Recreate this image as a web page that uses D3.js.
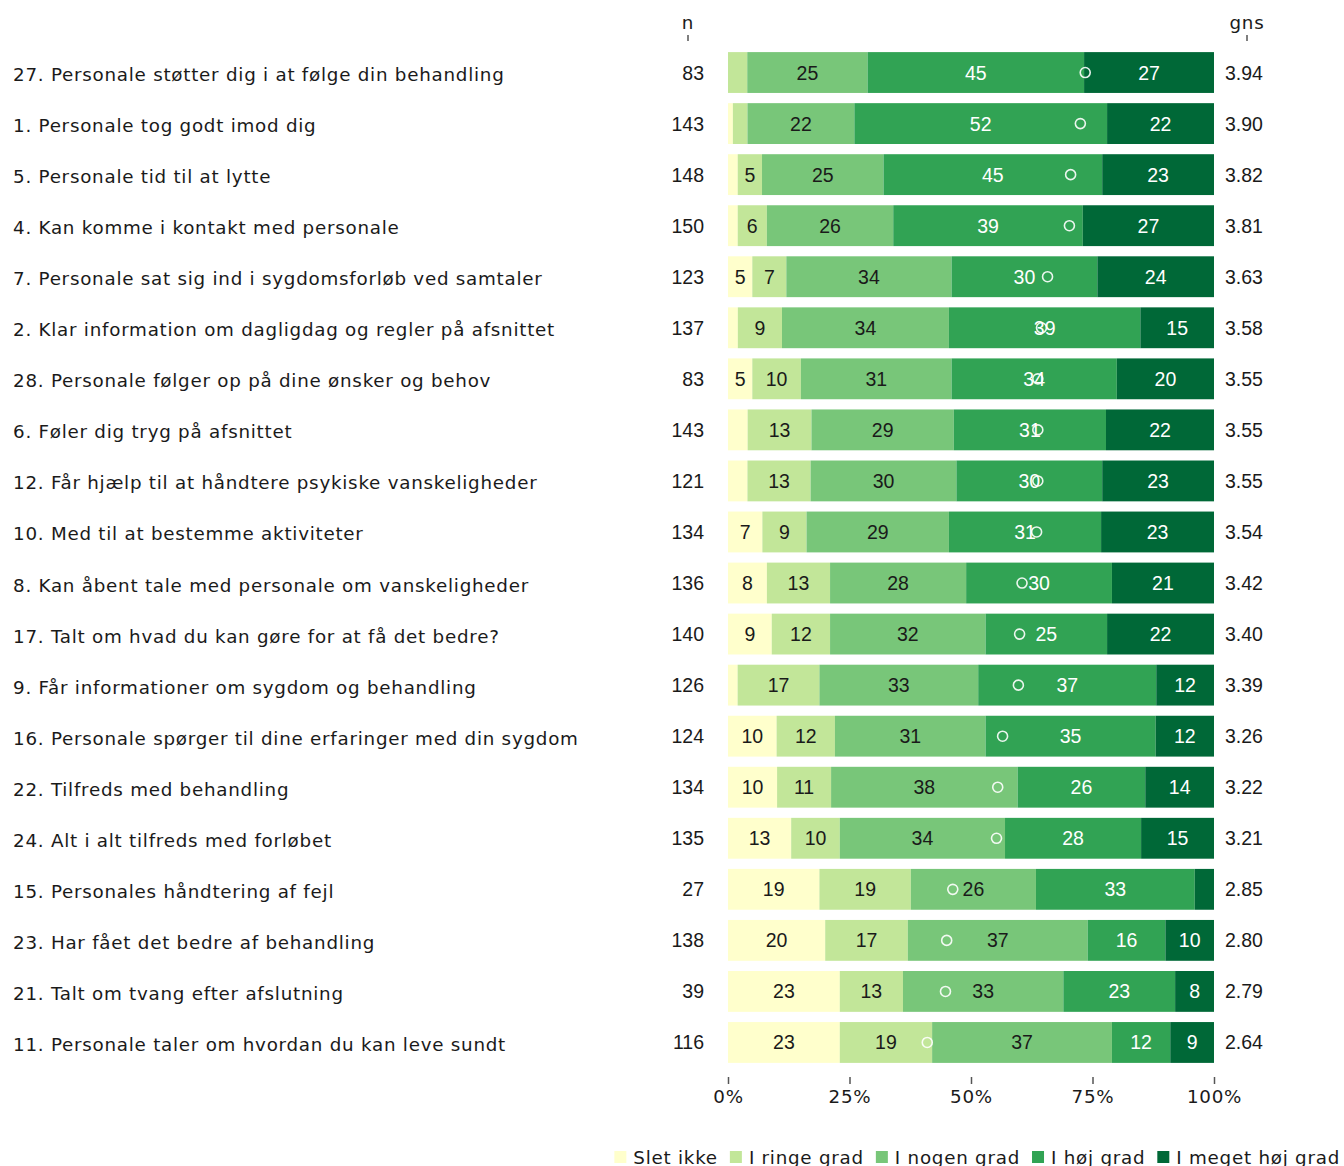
<!DOCTYPE html>
<html><head><meta charset="utf-8">
<script src="https://cdn.jsdelivr.net/npm/d3@7"></script>
<style>body{margin:0;background:#fff}svg{display:block}</style>
</head><body>
<script>
const questions = [
"27. Personale støtter dig i at følge din behandling",
"1. Personale tog godt imod dig",
"5. Personale tid til at lytte",
"4. Kan komme i kontakt med personale",
"7. Personale sat sig ind i sygdomsforløb ved samtaler",
"2. Klar information om dagligdag og regler på afsnittet",
"28. Personale følger op på dine ønsker og behov",
"6. Føler dig tryg på afsnittet",
"12. Får hjælp til at håndtere psykiske vanskeligheder",
"10. Med til at bestemme aktiviteter",
"8. Kan åbent tale med personale om vanskeligheder",
"17. Talt om hvad du kan gøre for at få det bedre?",
"9. Får informationer om sygdom og behandling",
"16. Personale spørger til dine erfaringer med din sygdom",
"22. Tilfreds med behandling",
"24. Alt i alt tilfreds med forløbet",
"15. Personales håndtering af fejl",
"23. Har fået det bedre af behandling",
"21. Talt om tvang efter afslutning",
"11. Personale taler om hvordan du kan leve sundt"];
const categories = ["Slet ikke","I ringe grad","I nogen grad","I høj grad","I meget høj grad"];
const sletIkke   = [0, 1, 2, 2, 5, 2, 5, 4, 4, 7, 8, 9, 2,10,10,13,19,20,23,23];
const iRingeGrad = [4, 3, 5, 6, 7, 9,10,13,13, 9,13,12,17,12,11,10,19,17,13,19];
const iNogenGrad = [25,22,25,26,34,34,31,29,30,29,28,32,33,31,38,34,26,37,33,37];
const iHoejGrad  = [45,52,45,39,30,39,34,31,30,31,30,25,37,35,26,28,33,16,23,12];
const iMegetHoej = [27,22,23,27,24,15,20,22,23,23,21,22,12,12,14,15, 4,10, 8, 9];
const nValues = [83,143,148,150,123,137,83,143,121,134,136,140,126,124,134,135,27,138,39,116];
const gns = [3.94,3.90,3.82,3.81,3.63,3.58,3.55,3.55,3.55,3.54,3.42,3.40,3.39,3.26,3.22,3.21,2.85,2.80,2.79,2.64];
const tickValues = [0,25,50,75,100];
const colors = ["#ffffcc","#c2e699","#78c679","#31a354","#006837"];
const textColors = ["#1a1a1a","#1a1a1a","#1a1a1a","#ffffff","#ffffff"];

const series = [sletIkke,iRingeGrad,iNogenGrad,iHoejGrad,iMegetHoej];
const rows = questions.map((q,i)=>{
  const vals = series.map(s=>s[i]);
  const tot = d3.sum(vals);
  let acc = 0;
  const segs = vals.map((v,k)=>{ const s={k,v,x0:acc/tot*100,x1:(acc+v)/tot*100}; acc+=v; return s;});
  return {q,i,segs,n:nValues[i],g:gns[i]};
});

const W=1344,H=1166;
const svg = d3.select("body").append("svg").attr("width",W).attr("height",H);
const x = d3.scaleLinear().domain([0,100]).range([728,1214]);
const y = d3.scaleBand().domain(questions).range([47,1068]).paddingInner(0.2).paddingOuter(0.1);
const num = "'Liberation Sans', Arial, sans-serif";
const ver = "'DejaVu Sans', Verdana, sans-serif";
const FS = 18.3, LS = 0.75;

const g = svg.append("g");
const row = g.selectAll("g.row").data(rows).join("g").attr("class","row");

row.append("text").attr("x",13).attr("y",d=>y(d.q)+y.bandwidth()/2+2)
  .attr("dominant-baseline","central").attr("font-family",ver).attr("font-size",FS)
  .attr("letter-spacing",LS).attr("fill","#1a1a1a").text(d=>d.q);

row.selectAll("rect").data(d=>d.segs.map(s=>({...s,q:d.q}))).join("rect")
  .attr("x",s=>x(s.x0)).attr("width",s=>x(s.x1)-x(s.x0))
  .attr("y",s=>y(s.q)).attr("height",y.bandwidth()).attr("fill",s=>colors[s.k]);

row.selectAll("text.seg").data(d=>d.segs.filter(s=>s.v>=5).map(s=>({...s,q:d.q}))).join("text")
  .attr("class","seg").attr("x",s=>x((s.x0+s.x1)/2)).attr("y",s=>y(s.q)+y.bandwidth()/2)
  .attr("text-anchor","middle").attr("dominant-baseline","central")
  .attr("font-family",num).attr("font-size",19.5).attr("fill",s=>textColors[s.k]).text(s=>s.v);

row.append("circle").attr("cx",d=>x((d.g-1)/4*100)).attr("cy",d=>y(d.q)+y.bandwidth()/2)
  .attr("r",5).attr("fill","none").attr("stroke","#ffffff").attr("stroke-width",1.6).attr("opacity",0.9);

row.append("text").attr("x",704).attr("y",d=>y(d.q)+y.bandwidth()/2)
  .attr("text-anchor","end").attr("dominant-baseline","central")
  .attr("font-family",num).attr("font-size",19.5).attr("fill","#1a1a1a").text(d=>d.n);

row.append("text").attr("x",1225).attr("y",d=>y(d.q)+y.bandwidth()/2)
  .attr("dominant-baseline","central")
  .attr("font-family",num).attr("font-size",19.5).attr("fill","#1a1a1a").text(d=>d.g.toFixed(2));

// column headers
[["n",688],["gns",1247]].forEach(([t,cx])=>{
  svg.append("text").attr("x",cx).attr("y",22).attr("text-anchor","middle").attr("dominant-baseline","central")
    .attr("font-family",ver).attr("font-size",FS).attr("letter-spacing",LS).attr("fill","#1a1a1a").text(t);
  svg.append("line").attr("x1",cx).attr("x2",cx).attr("y1",35).attr("y2",41).attr("stroke","#555").attr("stroke-width",1.5);
});

// x axis
const ax = svg.append("g").attr("transform","translate(0,1077)")
  .call(d3.axisBottom(x).tickValues(tickValues).tickFormat(d=>d+"%").tickSize(7).tickPadding(6));
ax.select(".domain").remove();
ax.selectAll("line").attr("stroke","#555").attr("stroke-width",1.5);
ax.selectAll("text").attr("font-family",ver).attr("font-size",FS).attr("letter-spacing",LS).attr("fill","#1a1a1a");

// legend (right aligned)
const leg = svg.append("g");
let lx = 0;
categories.forEach((c,k)=>{
  const gg = leg.append("g").attr("transform",`translate(${lx},1157)`);
  gg.append("rect").attr("x",0).attr("y",-6).attr("width",12).attr("height",12).attr("fill",colors[k]);
  const t = gg.append("text").attr("x",19).attr("y",0).attr("dominant-baseline","central")
    .attr("font-family",ver).attr("font-size",FS).attr("letter-spacing",LS).attr("fill","#1a1a1a").text(c);
  lx += 19 + t.node().getComputedTextLength() + 12;
});
leg.attr("transform",`translate(${1352-lx},0)`);
</script>
</body></html>
